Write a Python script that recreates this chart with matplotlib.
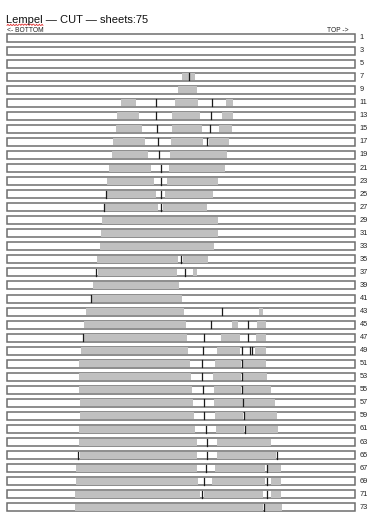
import numpy as np
import matplotlib.pyplot as plt
from matplotlib.patches import Rectangle

plt.rcParams['font.family'] = ['Liberation Sans', 'DejaVu Sans']

title = 'Lempel \u2014 CUT \u2014 sheets:75'
labels = list(range(1, 75, 2))

# grey (kept) spans on each row, x positions along the sheet
grey_spans = [
    [], [], [],
    [(182, 195)],
    [(178, 197)],
    [(120.7, 136), (175, 198), (226, 233)],
    [(117, 139), (172, 200), (222, 233)],
    [(116, 142), (172, 202), (219, 232)],
    [(113, 145), (171, 203), (209, 229)],
    [(111.7, 148.3), (170, 227.3)],
    [(109, 151), (169, 225)],
    [(107, 154), (167, 217.7)],
    [(106.7, 156.3), (165, 212.7)],
    [(105, 158.3), (162.7, 207.3)],
    [(102.3, 217.7)],
    [(101, 218.3)],
    [(100, 214)],
    [(97.3, 178.3), (183.3, 207.7)],
    [(97.7, 176.7), (193.3, 196.7)],
    [(93.3, 179.3)],
    [(91.7, 182.3)],
    [(86, 184.3), (258.5, 262.5)],
    [(84, 186), (232, 238), (257, 265.5)],
    [(84, 187.3), (221, 240), (256, 265.7)],
    [(80.7, 188.3), (216.7, 240), (255, 265.7)],
    [(79.3, 190), (215, 241), (242.5, 265.7)],
    [(79.3, 191), (213.3, 241), (242.5, 266.7)],
    [(79.3, 192.3), (214, 241), (243.3, 270.7)],
    [(80, 193.3), (214, 242.5), (243.5, 275)],
    [(80, 194.3), (215, 243), (244.5, 277)],
    [(79.3, 195), (216, 244.3), (245.7, 277.5)],
    [(79.3, 196.7), (216.7, 271)],
    [(80, 196.7), (216.7, 276.3)],
    [(76, 196.7), (215, 265.3), (267.5, 280.5)],
    [(76, 198.3), (211.7, 265), (270.7, 280.7)],
    [(75, 200), (204, 263.3), (270.7, 280.7)],
    [(75, 262.7), (265, 281.7)],
]

# black cut lines on each row
cuts = [
    [], [], [],
    [188.5],
    [],
    [156, 212],
    [156, 210.7],
    [156.7, 210],
    [158, 206.7],
    [159.3],
    [160.7],
    [161],
    [106, 161],
    [104, 160.7],
    [],
    [],
    [],
    [180.7],
    [96, 185.3],
    [],
    [90.7],
    [221.7],
    [211, 247.7],
    [82.7, 204, 247.7],
    [202.7, 241.5, 249.5, 252],
    [202.3, 241.7],
    [202.3, 241.7],
    [203.3, 241.9],
    [204, 243],
    [204.3, 243.5],
    [205.7, 244.8],
    [206.7],
    [78.3, 206.7, 276.8],
    [205.7, 266.7],
    [204.3, 266.7],
    [201.7, 267.3],
    [264],
]

sheet_start, sheet_end = 7, 355

fig = plt.figure(figsize=(3.84, 5.12), dpi=100)
ax = fig.add_axes([0, 0, 1, 1])
ax.set_xlim(0, 384)
ax.set_ylim(512, 0)
ax.axis('off')

row_top, pitch, bar_h = 37.5, 13.05, 8
for i, lab in enumerate(labels):
    yc = row_top + i * pitch
    y0 = yc - bar_h / 2
    ax.add_patch(Rectangle((sheet_start, y0), sheet_end - sheet_start, bar_h,
                           facecolor='white', edgecolor='#6e6e6e', lw=1.1, zorder=1))
    for a, b in grey_spans[i]:
        ax.add_patch(Rectangle((a, y0 + 0.5), b - a, bar_h - 1,
                               facecolor='#c0c0c0', edgecolor='none', zorder=2))
    for c in cuts[i]:
        ax.plot([c, c], [y0 + 0.5, y0 + bar_h - 0.5], color='#1a1a1a', lw=0.9, zorder=3)
    ax.text(359.5, yc, str(lab), fontsize=5.3, va='center', ha='left', color='#222222')

ax.text(6.5, 23, title, fontsize=8, va='baseline', ha='left', color='#111111')
# spell-check squiggle under the first word
sx = np.linspace(7, 43, 40)
ax.plot(sx, 24.8 + 0.6 * np.sign(np.sin(sx * 2.2)), color='#e03030', lw=0.6)
ax.text(7, 31.5, '<- BOTTOM', fontsize=4.8, va='baseline', ha='left', color='#222222')
ax.text(349, 31.5, 'TOP ->', fontsize=4.8, va='baseline', ha='right', color='#222222')

fig.savefig('out.png', dpi=100)
